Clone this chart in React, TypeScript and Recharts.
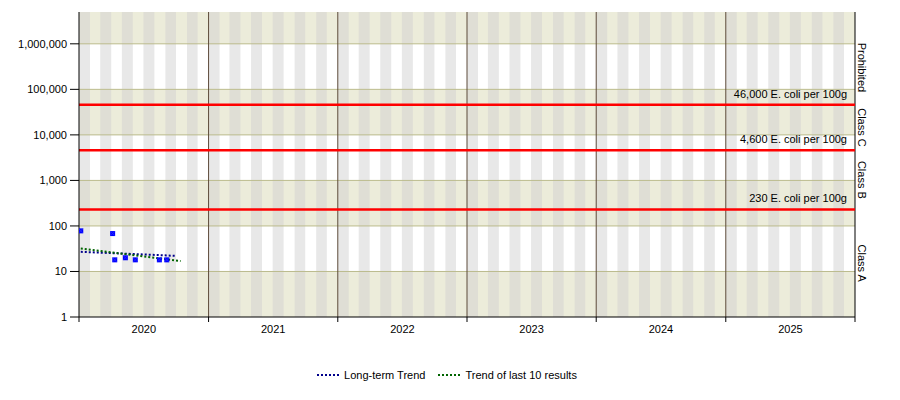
import React from "react";
import {
  ComposedChart,
  Line,
  Scatter,
  XAxis,
  YAxis,
  ReferenceArea,
  ReferenceLine,
  Legend,
} from "recharts";

// sample results (E. coli per 100g)
const sampleDates = ["2020-01-06", "2020-04-05", "2020-04-11", "2020-05-11", "2020-06-08", "2020-08-15", "2020-09-05"];
const sampleValues = [78, 68, 18, 20, 18, 18, 18];

// trend lines, start and end
const longTermDates = ["2020-01-06", "2020-10-03"];
const longTermValues = [27, 22];
const recentDates = ["2020-01-06", "2020-10-14"];
const recentValues = [32, 17];

const years = [2020, 2021, 2022, 2023, 2024, 2025];
const decades = [1, 10, 100, 1000, 10000, 100000, 1000000];
const yTop = 5000000;

const thresholds = [230, 4600, 46000];
const thresholdLabels = ["230 E. coli per 100g", "4,600 E. coli per 100g", "46,000 E. coli per 100g"];

const classNames = ["Class A", "Class B", "Class C", "Prohibited"];
const classBounds = [1, 230, 4600, 46000, 2000000];

const FONT = '"Liberation Sans", Arial, sans-serif';
const toT = (s: string) => Date.parse(s + "T00:00:00Z");

const samples = sampleDates.map((d, i) => ({ t: toT(d), v: sampleValues[i] }));
const longTerm = longTermDates.map((d, i) => ({ t: toT(d), v: longTermValues[i] }));
const recent = recentDates.map((d, i) => ({ t: toT(d), v: recentValues[i] }));

const xStart = Date.UTC(years[0], 0, 1);
const xEnd = Date.UTC(years[years.length - 1] + 1, 0, 1);
const yearStarts = [...years, years[years.length - 1] + 1].map((y) => Date.UTC(y, 0, 1));
const yearMids = years.map((y) => (Date.UTC(y, 0, 1) + Date.UTC(y + 1, 0, 1)) / 2);
const xTicks = [...yearStarts, ...yearMids].sort((a, b) => a - b);

const bandEdges = [...decades, yTop];
const bands = bandEdges.slice(0, -1).map((lo, i) => ({ lo, hi: bandEdges[i + 1], beige: i % 2 === 0 }));

const grayMonths: { x1: number; x2: number }[] = [];
years.forEach((y) => {
  for (let m = 0; m < 12; m += 2) grayMonths.push({ x1: Date.UTC(y, m, 1), x2: Date.UTC(y, m + 1, 1) });
});

const YearTick = (props: any) => {
  const { x, y, payload } = props;
  if (yearStarts.includes(payload.value)) {
    return <line x1={x} x2={x} y1={y - 5} y2={y} stroke="#000" />;
  }
  return (
    <text x={x} y={y} dy={11} textAnchor="middle" fontSize={11} fontFamily={FONT} fill="#000">
      {new Date(payload.value).getUTCFullYear()}
    </text>
  );
};

const ClassLabel = (props: any) => {
  const vb = props.viewBox || props;
  const x = vb.x + vb.width + 7;
  const y = vb.y + vb.height / 2;
  return (
    <text
      x={x}
      y={y}
      transform={`rotate(90, ${x}, ${y})`}
      textAnchor="middle"
      dominantBaseline="central"
      fontSize={11}
      fontFamily={FONT}
      fill="#000"
    >
      {props.text}
    </text>
  );
};

const LimitLabel = (props: any) => {
  const vb = props.viewBox || props;
  return (
    <text x={vb.x + vb.width - 8} y={vb.y - 7} textAnchor="end" fontSize={11} fontFamily={FONT} fill="#000">
      {props.text}
    </text>
  );
};

const Marker = (props: any) => {
  const { cx, cy } = props;
  return (
    <g>
      <rect x={cx - 2.5} y={cy - 2.5} width={5} height={5} fill="#0000FF" />
      <path d={`M${cx - 2},${cy - 2}L${cx + 2},${cy + 2}M${cx + 2},${cy - 2}L${cx - 2},${cy + 2}`} stroke="#2a2aff" strokeWidth={0.8} />
    </g>
  );
};

const LegendContent = (props: any) => {
  const items = (props.payload || []).filter((p: any) => p.type !== "none");
  return (
    <div
      style={{
        display: "flex",
        justifyContent: "center",
        alignItems: "center",
        gap: 13,
        height: 20,
        fontSize: 11,
        fontFamily: FONT,
        color: "#000",
      }}
    >
      {items.map((p: any) => (
        <span key={p.value} style={{ display: "flex", alignItems: "center" }}>
          <svg width={22} height={4}>
            <line x1={0} y1={2} x2={22} y2={2} stroke={p.color} strokeWidth={2} strokeDasharray="2 2" />
          </svg>
          <span style={{ marginLeft: 5 }}>{p.value}</span>
        </span>
      ))}
    </div>
  );
};

export default function App() {
  return (
    <div style={{ position: "absolute", left: 0, top: 0, width: 900, height: 400, background: "#fff" }}>
      <ComposedChart width={900} height={400} margin={{ top: 12, right: 45, left: 0, bottom: 15 }}>
        <XAxis
          type="number"
          dataKey="t"
          domain={[xStart, xEnd]}
          ticks={xTicks}
          interval={0}
          allowDataOverflow
          tickLine={false}
          tickSize={5}
          tickMargin={0}
          tick={<YearTick />}
          stroke="#000"
          height={48}
        />
        <YAxis
          type="number"
          dataKey="v"
          scale="log"
          domain={[1, yTop]}
          ticks={decades}
          interval={0}
          allowDataOverflow
          width={79}
          tickSize={9}
          tickMargin={3}
          tickFormatter={(v: number) => v.toLocaleString("en-US")}
          tick={{ fill: "#000", fontSize: 11, fontFamily: FONT }}
          stroke="#000"
        />

        {bands.map((b) => (
          <ReferenceArea
            key={`band-${b.lo}`}
            x1={xStart}
            x2={xEnd}
            y1={b.lo}
            y2={b.hi}
            fill={b.beige ? "#ECECDA" : "#FFFFFF"}
            fillOpacity={1}
            stroke="none"
          />
        ))}
        {grayMonths.map((m) =>
          bands.map((b) => (
            <ReferenceArea
              key={`cell-${m.x1}-${b.lo}`}
              x1={m.x1}
              x2={m.x2}
              y1={b.lo}
              y2={b.hi}
              fill={b.beige ? "#DFDED5" : "#E8E8E8"}
              fillOpacity={1}
              stroke="none"
            />
          ))
        )}

        {decades.slice(1).map((d) => (
          <ReferenceLine key={`grid-${d}`} y={d} stroke="#BBBB8C" strokeWidth={1} />
        ))}
        {yearStarts.slice(1, -1).map((t) => (
          <ReferenceLine key={`year-${t}`} x={t} stroke="#5C4A3A" strokeWidth={1} />
        ))}
        <ReferenceLine x={xEnd} stroke="#000" strokeWidth={1} />

        {classNames.map((c, i) => (
          <ReferenceArea
            key={c}
            x1={xStart}
            x2={xEnd}
            y1={classBounds[i]}
            y2={classBounds[i + 1]}
            fill="none"
            fillOpacity={0}
            stroke="none"
            label={<ClassLabel text={c} />}
          />
        ))}

        {thresholds.map((v, i) => (
          <ReferenceLine
            key={`limit-${v}`}
            y={v}
            stroke="#FF0000"
            strokeWidth={2.5}
            label={<LimitLabel text={thresholdLabels[i]} />}
          />
        ))}

        <Line
          data={longTerm}
          dataKey="v"
          name="Long-term Trend"
          type="linear"
          stroke="#00008B"
          strokeWidth={2}
          strokeDasharray="2 2"
          dot={false}
          activeDot={false}
          isAnimationActive={false}
        />
        <Line
          data={recent}
          dataKey="v"
          name="Trend of last 10 results"
          type="linear"
          stroke="#006400"
          strokeWidth={2}
          strokeDasharray="2 2"
          dot={false}
          activeDot={false}
          isAnimationActive={false}
        />
        <Scatter data={samples} dataKey="v" shape={<Marker />} legendType="none" isAnimationActive={false} />

        <Legend
          verticalAlign="bottom"
          content={<LegendContent />}
          wrapperStyle={{ left: 0, width: 894 }}
        />
      </ComposedChart>
    </div>
  );
}
